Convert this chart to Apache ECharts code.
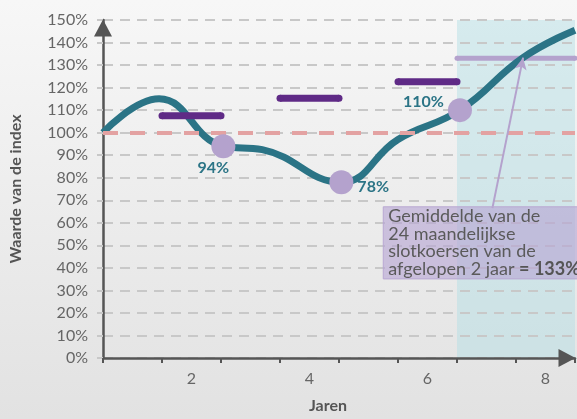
<!DOCTYPE html>
<html>
<head>
<meta charset="utf-8">
<script src="https://cdn.jsdelivr.net/npm/echarts@6/dist/echarts.min.js"></script>
<style>
html,body{margin:0;padding:0;}
#c{width:577px;height:419px;}
</style>
</head>
<body>
<div id="c"></div>
<script>
// ---- data ----
const xLabels = ['', '2', '', '4', '', '6', '', '8'];
const xMin = 0, xMax = 8, xStep = 1;
const yMin = 0, yMax = 150, yStep = 10;
const indexCurve = [[0, 100], [0.95, 115], [2.04, 94], [2.7, 92.5], [4.04, 78], [5.0, 97], [6.05, 110], [7.12, 133.3], [8, 145.5]];
const highlightPoints = [[2.04, 94], [4.04, 78], [6.05, 110]];
const highlightLabels = ['94%', '78%', '110%'];
const yearAvgFrom = [1, 3, 5];
const yearAvgTo = [2, 4, 6];
const yearAvgValue = [107.5, 115.3, 122.6];
const twoYearFrom = 6, twoYearTo = 8, twoYearValue = 133;
const referenceLevel = 100;
const shadeFrom = 6, shadeTo = 8;
const noteText = ['Gemiddelde van de', '24 maandelijkse', 'slotkoersen van de', 'afgelopen 2 jaar '];
const noteBold = '= 133%';
const noteAnchor = [4.75, 67.1];     // data coords of box top-left
const noteBottom = 35.1;
const arrowFrom = [6.6, 66.5];
const arrowTo = [7.12, 133.3];

const TEAL = '#2b7486', PURPLE = '#5f2a86', LAV = '#b4a2cd', FONT = 'Lato';

const chart = echarts.init(document.getElementById('c'));

const labelPos = [
  {position: 'bottom', distance: 2, offset: [-10, 0]},
  {position: 'right', distance: 4, offset: [0, 5]},
  {position: 'left', distance: 4, offset: [0, -8]}
];

const series = [];
// shaded region + reference line
series.push({
  type: 'line', data: [], z: -1, silent: true,
  markArea: {
    silent: true, z: -1,
    itemStyle: {color: 'rgba(175,222,228,0.45)'},
    data: [[{coord: [shadeFrom, yMax]}, {coord: [shadeTo, yMin]}]]
  },
  markLine: {
    silent: true, symbol: 'none', label: {show: false},
    lineStyle: {color: '#e3a2a2', width: 4, type: [15, 12], cap: 'butt'},
    data: [{yAxis: referenceLevel}]
  }
});
// 2-year average (below curve)
series.push({
  type: 'line', data: [[twoYearFrom, twoYearValue], [twoYearTo, twoYearValue]],
  symbol: 'circle', symbolSize: 5, showSymbol: true, z: 2, silent: true,
  itemStyle: {color: LAV, borderWidth: 0},
  lineStyle: {color: LAV, width: 5}
});
// main curve
series.push({
  type: 'line', data: indexCurve, smooth: 0.45, symbol: 'none', z: 3, silent: true,
  lineStyle: {color: TEAL, width: 7}
});
// yearly averages (round ends via end symbols)
for (let i = 0; i < yearAvgValue.length; i++) {
  series.push({
    type: 'line', data: [[yearAvgFrom[i], yearAvgValue[i]], [yearAvgTo[i], yearAvgValue[i]]],
    symbol: 'circle', symbolSize: 7, showSymbol: true, z: 4, silent: true,
    itemStyle: {color: PURPLE, borderWidth: 0},
    lineStyle: {color: PURPLE, width: 7}
  });
}
// arrow
series.push({
  type: 'line', data: [], z: 6, silent: true,
  markLine: {
    silent: true, symbol: ['none', 'arrow'], symbolSize: [9, 12], label: {show: false},
    lineStyle: {color: LAV, width: 2, type: 'solid'},
    data: [[{coord: arrowFrom}, {coord: arrowTo}]]
  }
});
// highlight points
series.push({
  type: 'scatter', z: 5, silent: true, symbolSize: 24,
  itemStyle: {color: LAV, opacity: 1},
  data: highlightPoints.map((p, i) => ({
    value: p,
    label: Object.assign({show: true, formatter: highlightLabels[i], color: TEAL, fontWeight: 'bold', fontSize: 16, fontFamily: FONT}, labelPos[i])
  }))
});

chart.setOption({
  animation: false,
  backgroundColor: {type: 'linear', x: 0, y: 0, x2: 0, y2: 1, colorStops: [{offset: 0, color: '#f7f7f7'}, {offset: 1, color: '#e2e2e2'}]},
  grid: {left: 103, right: 2, top: 20, bottom: 57},
  xAxis: [{
    type: 'value', min: xMin, max: xMax, interval: xStep, position: 'bottom',
    axisLine: {show: true, lineStyle: {color: '#555', width: 2.5}, symbol: ['none', 'triangle'], symbolSize: [18, 17], symbolOffset: [0, -8]},
    axisTick: {show: true, inside: false, length: 5, lineStyle: {color: '#555', width: 2}},
    axisLabel: {show: false},
    splitLine: {show: false}
  }, {
    type: 'category', data: xLabels, position: 'bottom', boundaryGap: true,
    axisLine: {show: false}, axisTick: {show: false},
    axisLabel: {interval: 0, color: '#666', fontSize: 16, fontFamily: FONT, margin: 13},
    name: 'Jaren', nameLocation: 'middle', nameGap: 40,
    nameTextStyle: {color: '#555', fontWeight: 'bold', fontSize: 16, fontFamily: FONT, padding: [0, 22, 0, 0]},
    splitLine: {show: false}
  }],
  yAxis: {
    type: 'value', min: yMin, max: yMax, interval: yStep,
    name: 'Waarde van de index', nameLocation: 'middle', nameGap: 79,
    nameTextStyle: {color: '#555', fontWeight: 'bold', fontSize: 16, fontFamily: FONT},
    axisLine: {show: true, lineStyle: {color: '#555', width: 2.5}, symbol: ['none', 'triangle'], symbolSize: [18, 17], symbolOffset: [0, -8]},
    axisTick: {show: true, length: 6, lineStyle: {color: '#c8c8c8', width: 2}},
    axisLabel: {color: '#666', fontSize: 16, fontFamily: FONT, margin: 15, formatter: v => v + '%'},
    splitLine: {show: true, lineStyle: {color: '#c8c8c8', width: 2, type: [10, 7]}}
  },
  series: series
});

// annotation box placed via the chart's own scales
const tl = chart.convertToPixel({xAxisIndex: 0, yAxisIndex: 0}, noteAnchor);
const br = chart.convertToPixel({xAxisIndex: 0, yAxisIndex: 0}, [xMax, noteBottom]);
chart.setOption({
  graphic: [{
    type: 'rect', z: 10, silent: true,
    shape: {x: tl[0], y: tl[1], width: 600 - tl[0], height: br[1] - tl[1]},
    style: {fill: 'rgba(183,164,212,0.62)', stroke: '#b9a8d2', lineWidth: 1}
  }, {
    type: 'text', z: 11, silent: true, x: tl[0] + 5, y: tl[1] + 1,
    style: {
      text: noteText.slice(0, 3).join('\n') + '\n' + noteText[3] + '{b|' + noteBold + '}',
      rich: {b: {fontWeight: 'bold', fontSize: 18, fontFamily: FONT, fill: '#555', lineHeight: 17.5}},
      fontSize: 18, fontFamily: FONT, fill: '#5a5a5a', lineHeight: 17.5
    }
  }]
});
</script>
</body>
</html>
